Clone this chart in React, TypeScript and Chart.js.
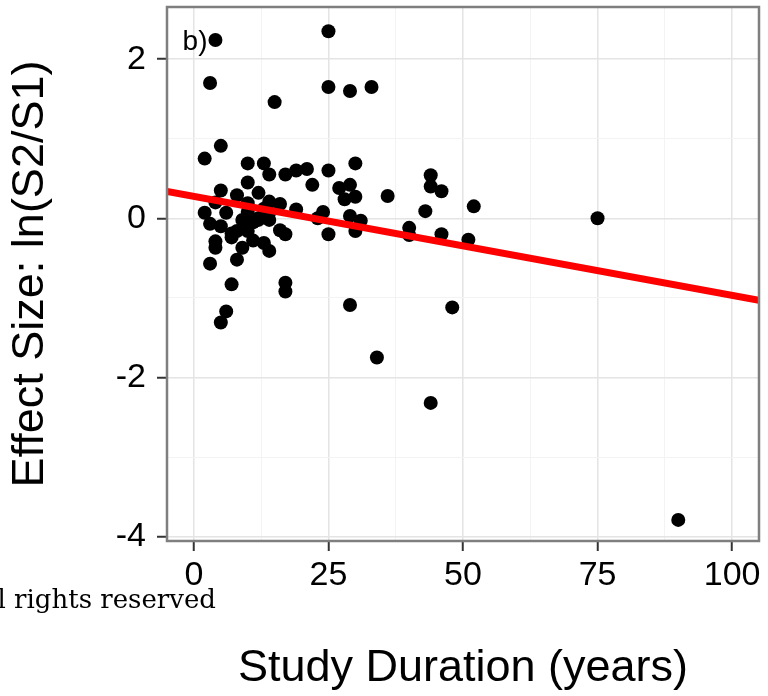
import React, { useEffect, useRef } from "react";
import { Chart, registerables } from "chart.js";

Chart.register(...registerables);

// Study duration (years) of each comparison
const durationYears = [
  4, 25, 3, 15, 25, 29, 33, 5, 2, 10,
  13, 14, 17, 19, 21, 25, 30, 22, 10, 5,
  8, 12, 27, 29, 28, 30, 36, 44, 44, 46,
  52, 43, 29, 31, 30, 40, 40, 46, 51, 75,
  29, 48, 34, 44, 90, 24, 23, 25, 19, 17,
  16, 16, 14, 13, 12, 10, 10, 9, 12, 14,
  14, 10, 11, 13, 14, 9, 8, 7, 17, 17,
  6, 5, 3, 2, 4, 6, 3, 5, 7, 4,
  4, 11, 8, 7,
];

// Effect size ln(S2/S1) of each comparison
const effectSizes = [
  2.24, 2.35, 1.7, 1.46, 1.65, 1.6, 1.65, 0.91, 0.75, 0.69,
  0.69, 0.55, 0.55, 0.6, 0.62, 0.6, 0.69, 0.42, 0.45, 0.35,
  0.29, 0.32, 0.38, 0.42, 0.24, 0.27, 0.28, 0.54, 0.4, 0.34,
  0.15, 0.09, 0.03, -0.03, -0.16, -0.12, -0.21, -0.2, -0.27, 0.0,
  -1.09, -1.12, -1.75, -2.32, -3.79, 0.08, 0.0, -0.2, 0.11, -0.2,
  -0.15, 0.18, 0.21, 0.12, 0.0, 0.19, 0.08, -0.02, -0.02, -0.02,
  0.07, -0.16, -0.28, -0.31, -0.41, -0.37, -0.52, -0.83, -0.81, -0.92,
  -1.17, -1.31, -0.57, 0.07, 0.2, 0.07, -0.07, -0.1, -0.19, -0.29,
  -0.37, -0.05, -0.16, -0.24,
];

// Fitted regression line (ends at the axis limits)
const fitX = [-5, 105];
const fitY = [0.338, -1.031];

// Axis ticks (minor ticks have empty labels)
const xTickValues = [0, 12.5, 25, 37.5, 50, 62.5, 75, 87.5, 100];
const xTickLabels = ["0", "", "25", "", "50", "", "75", "", "100"];
const yTickValues = [-4, -3, -2, -1, 0, 1, 2];
const yTickLabels = ["-4", "", "-2", "", "0", "", "2"];

const xLimits = [-5, 105];
const yLimits = [-4.055, 2.655];

const xTitle = "Study Duration (years)";
const yTitle = "Effect Size: ln(S2/S1)";
const panelLabel = "b)";
const panelLabelX = -2.1;
const panelLabelY = 2.12;
const watermark = "All rights reserved";

const SANS = '"Liberation Sans", Arial, Helvetica, sans-serif';

const overlayPlugin = {
  id: "overlay",
  afterDatasetsDraw(chart: any) {
    const { ctx, chartArea } = chart;
    const xs = chart.scales.x;
    const ys = chart.scales.y;
    ctx.save();
    ctx.strokeStyle = "#7f7f7f";
    ctx.lineWidth = 2.5;
    ctx.strokeRect(
      chartArea.left,
      chartArea.top,
      chartArea.right - chartArea.left,
      chartArea.bottom - chartArea.top
    );
    ctx.fillStyle = "#000";
    ctx.font = `28px ${SANS}`;
    ctx.textAlign = "left";
    ctx.textBaseline = "alphabetic";
    ctx.fillText(
      panelLabel,
      xs.getPixelForValue(panelLabelX),
      ys.getPixelForValue(panelLabelY)
    );
    ctx.restore();
  },
  afterDraw(chart: any) {
    const { ctx } = chart;
    ctx.save();
    ctx.fillStyle = "#000";
    ctx.font = '26px "DejaVu Serif", "Liberation Serif", serif';
    ctx.textAlign = "right";
    ctx.textBaseline = "alphabetic";
    ctx.fillText(watermark, 216, 608);
    ctx.restore();
  },
};

const isMajorX = (v: number) => xTickLabels[xTickValues.indexOf(v)] !== "";
const isMajorY = (v: number) => yTickLabels[yTickValues.indexOf(v)] !== "";

export default function App() {
  const canvasRef = useRef<HTMLCanvasElement | null>(null);

  useEffect(() => {
    const canvas = canvasRef.current;
    if (!canvas) return;
    const points = durationYears.map((x, i) => ({ x, y: effectSizes[i] }));
    const fit = fitX.map((x, i) => ({ x, y: fitY[i] }));

    const chart = new Chart(canvas, {
      type: "scatter",
      data: {
        datasets: [
          {
            type: "line",
            data: fit,
            borderColor: "#ff0000",
            borderWidth: 7,
            pointRadius: 0,
            fill: false,
            order: 0,
          } as any,
          {
            type: "scatter",
            data: points,
            pointRadius: 7,
            pointBackgroundColor: "#000",
            pointBorderWidth: 0,
            pointBorderColor: "#000",
            order: 1,
          },
        ],
      },
      options: {
        responsive: false,
        animation: false,
        events: [],
        devicePixelRatio: 1,
        layout: { padding: { left: 0, top: 7, right: 9, bottom: 0 } },
        plugins: {
          legend: { display: false },
          tooltip: { enabled: false },
        },
        scales: {
          x: {
            type: "linear",
            min: xLimits[0],
            max: xLimits[1],
            afterBuildTicks: (axis: any) => {
              axis.ticks = xTickValues.map((value) => ({ value }));
            },
            afterFit: (axis: any) => {
              axis.height = 155;
              axis.paddingLeft = 0;
              axis.paddingRight = 0;
            },
            border: { display: false },
            grid: {
              color: (c: any) =>
                c.tick && isMajorX(c.tick.value) ? "#e4e4e4" : "#f3f3f3",
              lineWidth: (c: any) => (c.tick && isMajorX(c.tick.value) ? 1.5 : 1),
              drawTicks: true,
              tickLength: 10,
              tickWidth: 2,
              tickColor: (c: any) =>
                c.tick && isMajorX(c.tick.value) ? "#333" : "rgba(0,0,0,0)",
            },
            ticks: {
              autoSkip: false,
              maxRotation: 0,
              padding: 4,
              color: "#000",
              font: { family: SANS, size: 34 },
              callback: (_v: any, i: number) => xTickLabels[i],
            },
            title: {
              display: true,
              text: xTitle,
              color: "#000",
              font: { family: SANS, size: 45 },
              padding: { top: 0, bottom: 0 },
            },
          },
          y: {
            type: "linear",
            min: yLimits[0],
            max: yLimits[1],
            afterBuildTicks: (axis: any) => {
              axis.ticks = yTickValues.map((value) => ({ value }));
            },
            afterFit: (axis: any) => {
              axis.width = 167;
              axis.paddingTop = 0;
              axis.paddingBottom = 0;
            },
            border: { display: false },
            grid: {
              color: (c: any) =>
                c.tick && isMajorY(c.tick.value) ? "#e4e4e4" : "#f3f3f3",
              lineWidth: (c: any) => (c.tick && isMajorY(c.tick.value) ? 1.5 : 1),
              drawTicks: true,
              tickLength: 10,
              tickWidth: 2,
              tickColor: (c: any) =>
                c.tick && isMajorY(c.tick.value) ? "#333" : "rgba(0,0,0,0)",
            },
            ticks: {
              autoSkip: false,
              padding: 11,
              color: "#000",
              font: { family: SANS, size: 34 },
              callback: (_v: any, i: number) => yTickLabels[i],
            },
            title: {
              display: true,
              text: yTitle,
              color: "#000",
              font: { family: SANS, size: 45 },
              padding: { top: 4, bottom: 0 },
            },
          },
        },
      },
      plugins: [overlayPlugin],
    });

    return () => chart.destroy();
  }, []);

  return (
    <div
      style={{
        position: "absolute",
        left: 0,
        top: 0,
        width: 768,
        height: 696,
        background: "#fff",
      }}
    >
      <canvas ref={canvasRef} width={768} height={696} />
    </div>
  );
}
